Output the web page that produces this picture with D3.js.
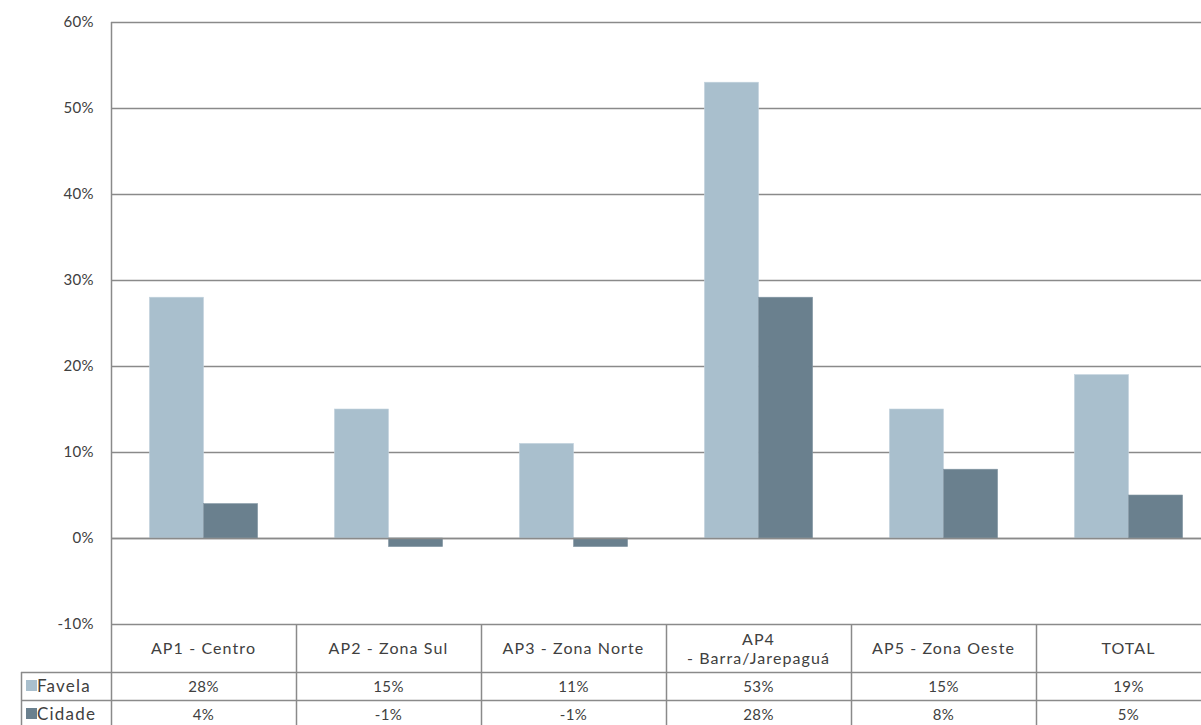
<!DOCTYPE html>
<html>
<head>
<meta charset="utf-8">
<script src="https://cdn.jsdelivr.net/npm/d3@7"></script>
<style>
  html, body { margin: 0; padding: 0; background: #fff; }
  svg { display: block; }
  text { font-family: "Lato", "Open Sans", sans-serif; font-weight: 400; fill: #404040; }
</style>
</head>
<body>
<svg id="chart" width="1201" height="725"></svg>
<script>
// Categories (planning areas) and the growth rate per series
const categories = ["AP1 - Centro", "AP2 - Zona Sul", "AP3 - Zona Norte", "AP4\n- Barra/Jarepaguá", "AP5 - Zona Oeste", "TOTAL"];
const seriesNames = ["Favela", "Cidade"];
const favela = [28, 15, 11, 53, 15, 19];
const cidade = [4, -1, -1, 28, 8, 5];
const yTicks = [-10, 0, 10, 20, 30, 40, 50, 60];

const series = [favela, cidade];
const colors = ["#a9bfcd", "#6a808e"];
const grid = "#8a8a8a";

const svg = d3.select("#chart");
const plotLeft = 111, plotRight = 1221, plotTop = 22, plotBottom = 624;

const x = d3.scaleBand().domain(categories).range([plotLeft, plotRight]).paddingInner(0).paddingOuter(0);
const inner = d3.scaleBand().domain(seriesNames).range([0, x.bandwidth()]).paddingInner(0).paddingOuter(0.71);
const y = d3.scaleLinear().domain([-10, 60]).range([plotBottom, plotTop]);

// Horizontal gridlines
svg.append("g").selectAll("line").data(yTicks).join("line")
  .attr("x1", plotLeft).attr("x2", 1201)
  .attr("y1", d => Math.round(y(d)) + 0.5).attr("y2", d => Math.round(y(d)) + 0.5)
  .attr("stroke", grid).attr("stroke-width", 1.5);

// Y axis tick labels
const yAxis = d3.axisLeft(y).tickValues(yTicks).tickSize(0).tickPadding(17).tickFormat(d => d + "%");
svg.append("g").attr("transform", `translate(${plotLeft},0)`).call(yAxis)
  .call(g => g.select(".domain").remove())
  .call(g => g.selectAll("text").attr("font-size", 15).attr("fill", "#404040")
    .attr("letter-spacing", 0.4)
    .style("font-family", '"Lato", "Open Sans", sans-serif'));

// Bars
series.forEach((vals, si) => {
  svg.append("g").selectAll("rect").data(vals).join("rect")
    .attr("x", (d, i) => x(categories[i]) + inner(seriesNames[si]))
    .attr("width", inner.bandwidth())
    .attr("y", d => y(Math.max(0, d)))
    .attr("height", d => Math.abs(y(d) - y(0)))
    .attr("fill", colors[si])
    .attr("stroke", si === 0 ? "#c3d3de" : "#8497a4").attr("stroke-width", 0.6);
});

// Zero line drawn over the bars
svg.append("line").attr("x1", plotLeft).attr("x2", 1201)
  .attr("y1", Math.round(y(0)) + 0.5).attr("y2", Math.round(y(0)) + 0.5)
  .attr("stroke", grid).attr("stroke-width", 1.5);

// Data table below the plot
const rowTops = [plotBottom, 672, 700, 728];
const tableLeft = 21;
const tg = svg.append("g");

// Vertical axis line continuing through table
tg.append("line").attr("x1", plotLeft + 0.5).attr("x2", plotLeft + 0.5).attr("y1", plotTop).attr("y2", 725)
  .attr("stroke", grid).attr("stroke-width", 1.5);
// Row separators
[rowTops[1], rowTops[2]].forEach(ry => {
  tg.append("line").attr("x1", tableLeft).attr("x2", 1201).attr("y1", ry + 0.5).attr("y2", ry + 0.5)
    .attr("stroke", grid).attr("stroke-width", 1.5);
});
tg.append("line").attr("x1", tableLeft + 0.5).attr("x2", tableLeft + 0.5).attr("y1", rowTops[1]).attr("y2", 725)
  .attr("stroke", grid).attr("stroke-width", 1.5);
// Column separators
tg.selectAll("line.col").data(categories.slice(1)).join("line").attr("class", "col")
  .attr("x1", d => Math.round(x(d)) + 0.5).attr("x2", d => Math.round(x(d)) + 0.5)
  .attr("y1", plotBottom).attr("y2", 725)
  .attr("stroke", grid).attr("stroke-width", 1.5);

// Category labels
categories.forEach(c => {
  const lines = c.split("\n");
  const cx = x(c) + x.bandwidth() / 2;
  const t = tg.append("text").attr("text-anchor", "middle").attr("font-size", 16)
    .attr("letter-spacing", 1.1);
  const mid = (rowTops[0] + rowTops[1]) / 2;
  lines.forEach((ln, i) => {
    t.append("tspan").attr("x", cx)
      .attr("y", mid + 6 + (i - (lines.length - 1) / 2) * 19)
      .text(ln);
  });
});

// Series rows: legend key, name and values
series.forEach((vals, si) => {
  const ry = rowTops[si + 1];
  const mid = ry + 14;
  tg.append("rect").attr("x", 26).attr("y", mid - 6).attr("width", 11).attr("height", 11).attr("fill", colors[si]);
  tg.append("text").attr("x", 37).attr("y", mid + 6).attr("font-size", 17)
    .attr("letter-spacing", 1.2).text(seriesNames[si]);
  tg.selectAll(null).data(vals).join("text")
    .attr("x", (d, i) => x(categories[i]) + x.bandwidth() / 2)
    .attr("y", mid + 6).attr("text-anchor", "middle").attr("font-size", 15)
    .attr("letter-spacing", 0.4)
    .text(d => d + "%");
});
</script>
</body>
</html>
